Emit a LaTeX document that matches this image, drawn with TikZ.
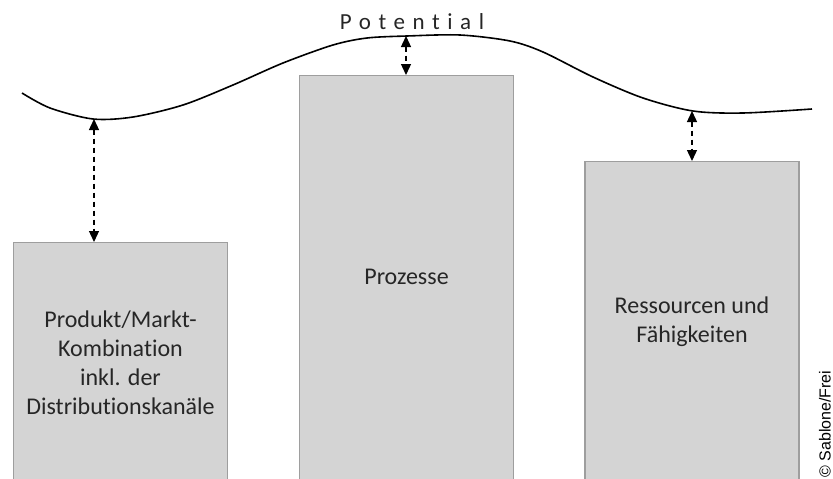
\documentclass[tikz,border=0pt]{standalone}
\usepackage{fontspec}
\setmainfont{Carlito}[Ligatures={NoCommon}]
\newfontfamily\notefont{Liberation Sans}
\usetikzlibrary{arrows.meta}
\usetikzlibrary{positioning}

\tikzset{
  block/.style={draw=black!38, line width=1.2pt, fill=black!17, minimum width=214pt, anchor=north, inner sep=0pt},
  blocktext/.style={align=center, font=\fontsize{24}{29}\selectfont, text=black!85},
  gap/.style={{Triangle[width=10pt,length=11pt]}-{Triangle[width=10pt,length=11pt]}, dash pattern=on 5pt off 4pt, line width=1.3pt},
}

\begin{document}
\begin{tikzpicture}[x=1pt,y=-1pt]
\clip (0,0) rectangle (833,479);

% three blocks below the potential line
\node[block, minimum height=250pt] (produkt) at (120.5,242) {};
\node[block, minimum height=420pt] (prozesse) at (406.5,75) {};
\node[block, minimum height=330pt] (ressourcen) at (692,161) {};

\node[blocktext] (produkttext) at (120.5,363) {Produkt/Markt-\\Kombination\\inkl. der\\Distributionskanäle};
\node[blocktext] (prozessetext) at (406.5,277) {Prozesse};
\node[blocktext] (ressourcentext) at (692,322) {Ressourcen und\\Fähigkeiten};

% potential line
\draw[line width=1.6pt] plot[smooth] coordinates {(22,93) (50,108) (93,119) (133,117) (183,105) (233,85) (283,63) (333,45) (367,38) (407,36) (460,35) (510,41) (543,52) (593,77) (643,98) (693,111) (743,113) (812,109)};
\coordinate (tief1) at (94,119);
\coordinate (hoch) at (406,36);
\coordinate (tief2) at (692,111);

\node[anchor=base, font=\fontsize{23}{28}\selectfont\addfontfeature{LetterSpace=33}, text=black!85] (potential) at (412,29) {Potential};

% gaps
\draw[gap] (tief1) -- (tief1 |- produkt.north);
\draw[gap] (hoch) -- (hoch |- prozesse.north);
\draw[gap] (tief2) -- (tief2 |- ressourcen.north);

\node[font=\notefont\fontsize{16}{19}\selectfont, rotate=90] (quelle) at (825,424) {© Sablone/Frei};
\end{tikzpicture}
\end{document}
